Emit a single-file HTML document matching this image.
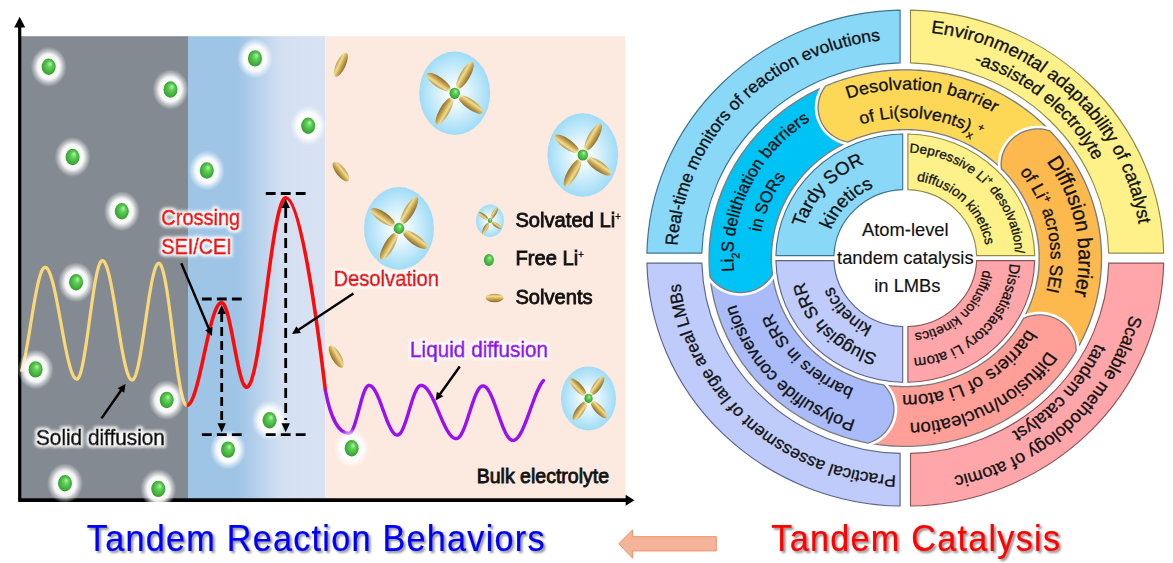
<!DOCTYPE html>
<html><head><meta charset="utf-8"><style>html,body{margin:0;padding:0;background:#fff;width:1173px;height:563px;overflow:hidden}svg{display:block}</style></head>
<body><svg width="1173" height="563" viewBox="0 0 1173 563">
<defs>
<linearGradient id="blueg" x1="0" x2="1" y1="0" y2="0">
 <stop offset="0" stop-color="#9fc5e6"/><stop offset="0.37" stop-color="#9fc5e6"/>
 <stop offset="0.68" stop-color="#d4e0f2"/><stop offset="1" stop-color="#d8e2f3"/>
</linearGradient>
<radialGradient id="glow"><stop offset="0.4" stop-color="#fff" stop-opacity="1"/><stop offset="0.62" stop-color="#fff" stop-opacity="0.92"/><stop offset="0.82" stop-color="#fff" stop-opacity="0.4"/><stop offset="1" stop-color="#fff" stop-opacity="0"/></radialGradient>
<radialGradient id="greenb" cx="0.5" cy="0.5" r="0.55" fx="0.62" fy="0.3">
 <stop offset="0" stop-color="#b4f8aa"/><stop offset="0.35" stop-color="#62cf5a"/><stop offset="0.8" stop-color="#3cac36"/><stop offset="1" stop-color="#2e8a24"/>
</radialGradient>
<linearGradient id="goldg" x1="0" x2="0" y1="0" y2="1">
 <stop offset="0" stop-color="#b8963c"/><stop offset="0.3" stop-color="#f0dc98"/><stop offset="0.55" stop-color="#d2b158"/><stop offset="1" stop-color="#8a6c28"/>
</linearGradient>
<radialGradient id="bubble"><stop offset="0" stop-color="#ffffff"/><stop offset="0.3" stop-color="#eaf8fe"/><stop offset="1" stop-color="#9fdcf7"/></radialGradient>
<filter id="wglow" x="-10%" y="-30%" width="120%" height="160%"><feMorphology in="SourceAlpha" operator="dilate" radius="1.5" result="d"/><feGaussianBlur in="d" stdDeviation="1.6" result="b"/><feFlood flood-color="#fff" flood-opacity="0.95"/><feComposite in2="b" operator="in" result="w"/><feMerge><feMergeNode in="w"/><feMergeNode in="SourceGraphic"/></feMerge></filter>
<filter id="dshadow" x="-5%" y="-20%" width="110%" height="150%"><feGaussianBlur in="SourceAlpha" stdDeviation="1" result="b"/><feOffset dx="1.5" dy="1.8" result="o"/><feFlood flood-color="#000" flood-opacity="0.45"/><feComposite in2="o" operator="in" result="s"/><feMerge><feMergeNode in="s"/><feMergeNode in="SourceGraphic"/></feMerge></filter>
<path id="o1" d="M159.22 151.09 A219.5 219.5 0 0 1 -159.22 -151.09 A219.5 219.5 0 0 1 159.22 151.09"/>
<path id="o2a" d="M-156.77 163.48 A226.5 226.5 0 0 1 156.77 -163.48 A226.5 226.5 0 0 1 -156.77 163.48"/>
<path id="o2b" d="M-132.96 157.34 A206 206 0 0 1 132.96 -157.34 A206 206 0 0 1 -132.96 157.34"/>
<path id="o3a" d="M-154.47 -162.21 A224 224 0 0 1 154.47 162.21 A224 224 0 0 1 -154.47 -162.21"/>
<path id="o3b" d="M-149.11 -135.68 A201.6 201.6 0 0 1 149.11 135.68 A201.6 201.6 0 0 1 -149.11 -135.68"/>
<path id="o4" d="M147.78 -159.59 A217.5 217.5 0 0 1 -147.78 159.59 A217.5 217.5 0 0 1 147.78 -159.59"/>
<path id="m1a" d="M-16.74 167.67 A168.5 168.5 0 0 1 16.74 -167.67 A168.5 168.5 0 0 1 -16.74 167.67"/>
<path id="m1b" d="M-15.66 139.62 A140.5 140.5 0 0 1 15.66 -139.62 A140.5 140.5 0 0 1 -15.66 139.62"/>
<path id="m2a" d="M-163.3 32.48 A166.5 166.5 0 0 1 163.3 -32.48 A166.5 166.5 0 0 1 -163.3 32.48"/>
<path id="m2b" d="M-136.4 29.24 A139.5 139.5 0 0 1 136.4 -29.24 A139.5 139.5 0 0 1 -136.4 29.24"/>
<path id="m3a" d="M-79.11 -144.8 A165 165 0 0 1 79.11 144.8 A165 165 0 0 1 -79.11 -144.8"/>
<path id="m3b" d="M-65.89 -120.34 A137.2 137.2 0 0 1 65.89 120.34 A137.2 137.2 0 0 1 -65.89 -120.34"/>
<path id="m4a" d="M119.92 -119.08 A169 169 0 0 1 -119.92 119.08 A169 169 0 0 1 119.92 -119.08"/>
<path id="m4b" d="M96.38 -100.85 A139.5 139.5 0 0 1 -96.38 100.85 A139.5 139.5 0 0 1 96.38 -100.85"/>
<path id="m5a" d="M148.43 72.07 A165 165 0 0 1 -148.43 -72.07 A165 165 0 0 1 148.43 72.07"/>
<path id="m5b" d="M129.79 55.09 A141 141 0 0 1 -129.79 -55.09 A141 141 0 0 1 129.79 55.09"/>
<path id="i1a" d="M75.54 68.98 A102.3 102.3 0 0 1 -75.54 -68.98 A102.3 102.3 0 0 1 75.54 68.98"/>
<path id="i1b" d="M55.2 53.68 A77 77 0 0 1 -55.2 -53.68 A77 77 0 0 1 55.2 53.68"/>
<path id="i2a" d="M-74.34 74.86 A105.5 105.5 0 0 1 74.34 -74.86 A105.5 105.5 0 0 1 -74.34 74.86"/>
<path id="i2b" d="M-54.33 55.97 A78 78 0 0 1 54.33 -55.97 A78 78 0 0 1 -54.33 55.97"/>
<path id="i3a" d="M-72.22 -70.6 A101 101 0 0 1 72.22 70.6 A101 101 0 0 1 -72.22 -70.6"/>
<path id="i3b" d="M-52.6 -54.85 A76 76 0 0 1 52.6 54.85 A76 76 0 0 1 -52.6 -54.85"/>
<path id="i4a" d="M71.81 -69.59 A100 100 0 0 1 -71.81 69.59 A100 100 0 0 1 71.81 -69.59"/>
<path id="i4b" d="M54.22 -51.82 A75 75 0 0 1 -54.22 51.82 A75 75 0 0 1 54.22 -51.82"/></defs>
<rect width="1173" height="563" fill="#fff"/>
<rect x="21" y="36.2" width="167" height="462.8" fill="#838a91"/>
<rect x="188" y="36.2" width="137.4" height="462.8" fill="url(#blueg)"/>
<rect x="325.4" y="36.2" width="299.8" height="462.8" fill="#fce9e0"/>
<path d="M19.7 500 V27" stroke="#000" stroke-width="3.2" fill="none"/>
<path d="M14.2 27.6 L19.7 16.8 L25.2 27.6 Z" fill="#000"/>
<path d="M18.2 500.1 H626" stroke="#000" stroke-width="3.6" fill="none"/>
<path d="M625.6 494.7 L634.4 500.2 L625.6 505.8 Z" fill="#000"/>
<path d="M21.44 371.66 L21.94 369.96 L22.44 368.12 L22.95 366.14 L23.45 364.04 L23.95 361.81 L24.46 359.47 L24.96 357.02 L25.46 354.47 L25.97 351.82 L26.47 349.09 L26.97 346.29 L27.48 343.41 L27.98 340.47 L28.48 337.48 L28.99 334.45 L29.49 331.39 L29.99 328.3 L30.5 325.2 L31 322.1 L31.51 319 L32.01 315.91 L32.51 312.85 L33.02 309.82 L33.52 306.83 L34.02 303.89 L34.53 301.01 L35.03 298.21 L35.53 295.48 L36.04 292.83 L36.54 290.28 L37.04 287.83 L37.55 285.49 L38.05 283.26 L38.55 281.16 L39.06 279.18 L39.56 277.34 L40.06 275.64 L40.57 274.09 L41.07 272.69 L41.58 271.44 L42.08 270.35 L42.58 269.43 L43.09 268.66 L43.59 268.07 L44.09 267.64 L44.6 267.39 L45.1 267.3 L45.6 267.37 L46.11 267.58 L46.61 267.92 L47.11 268.41 L47.62 269.03 L48.12 269.78 L48.62 270.67 L49.13 271.69 L49.63 272.84 L50.13 274.11 L50.63 275.5 L51.14 277.01 L51.64 278.64 L52.14 280.38 L52.65 282.22 L53.15 284.17 L53.65 286.21 L54.16 288.35 L54.66 290.57 L55.16 292.87 L55.67 295.25 L56.17 297.7 L56.67 300.21 L57.18 302.78 L57.68 305.4 L58.18 308.06 L58.69 310.76 L59.19 313.49 L59.69 316.25 L60.2 319.02 L60.7 321.81 L61.2 324.59 L61.7 327.38 L62.21 330.15 L62.71 332.91 L63.21 335.64 L63.72 338.34 L64.22 341 L64.72 343.62 L65.23 346.19 L65.73 348.7 L66.23 351.15 L66.74 353.53 L67.24 355.83 L67.74 358.05 L68.25 360.19 L68.75 362.23 L69.25 364.18 L69.76 366.02 L70.26 367.76 L70.76 369.39 L71.27 370.9 L71.77 372.29 L72.27 373.56 L72.77 374.71 L73.28 375.73 L73.78 376.62 L74.28 377.37 L74.79 377.99 L75.29 378.48 L75.79 378.82 L76.3 379.03 L76.8 379.1 L77.3 378.99 L77.8 378.65 L78.3 378.09 L78.8 377.31 L79.3 376.31 L79.8 375.1 L80.3 373.68 L80.8 372.05 L81.3 370.23 L81.8 368.21 L82.3 366.01 L82.8 363.64 L83.3 361.1 L83.8 358.4 L84.3 355.56 L84.8 352.58 L85.3 349.48 L85.8 346.26 L86.3 342.94 L86.8 339.54 L87.3 336.06 L87.8 332.53 L88.3 328.94 L88.8 325.32 L89.3 321.67 L89.8 318.03 L90.3 314.38 L90.8 310.76 L91.3 307.17 L91.8 303.64 L92.3 300.16 L92.8 296.76 L93.3 293.44 L93.8 290.23 L94.3 287.12 L94.8 284.14 L95.3 281.3 L95.8 278.6 L96.3 276.06 L96.8 273.69 L97.3 271.49 L97.8 269.47 L98.3 267.65 L98.8 266.02 L99.3 264.6 L99.8 263.39 L100.3 262.39 L100.8 261.61 L101.3 261.05 L101.8 260.71 L102.3 260.6 L102.81 260.68 L103.31 260.94 L103.82 261.36 L104.32 261.95 L104.83 262.7 L105.33 263.62 L105.84 264.7 L106.34 265.94 L106.85 267.33 L107.35 268.87 L107.86 270.55 L108.36 272.38 L108.87 274.34 L109.37 276.43 L109.88 278.65 L110.38 280.99 L110.89 283.43 L111.39 285.99 L111.9 288.63 L112.4 291.37 L112.91 294.19 L113.41 297.09 L113.92 300.05 L114.42 303.07 L114.93 306.13 L115.43 309.24 L115.94 312.38 L116.44 315.54 L116.95 318.71 L117.45 321.89 L117.96 325.06 L118.46 328.22 L118.97 331.36 L119.47 334.47 L119.98 337.53 L120.48 340.55 L120.99 343.51 L121.49 346.41 L122 349.23 L122.5 351.97 L123.01 354.61 L123.51 357.17 L124.02 359.61 L124.52 361.95 L125.03 364.17 L125.53 366.26 L126.04 368.22 L126.54 370.05 L127.05 371.73 L127.55 373.27 L128.06 374.66 L128.56 375.9 L129.07 376.98 L129.57 377.9 L130.08 378.65 L130.58 379.24 L131.09 379.66 L131.59 379.92 L132.1 380 L132.6 379.9 L133.11 379.59 L133.61 379.08 L134.12 378.37 L134.62 377.46 L135.12 376.35 L135.63 375.05 L136.13 373.56 L136.63 371.89 L137.14 370.05 L137.64 368.03 L138.15 365.85 L138.65 363.52 L139.15 361.04 L139.66 358.42 L140.16 355.67 L140.66 352.8 L141.17 349.82 L141.67 346.74 L142.18 343.58 L142.68 340.34 L143.18 337.03 L143.69 333.67 L144.19 330.27 L144.69 326.83 L145.2 323.38 L145.7 319.92 L146.21 316.47 L146.71 313.03 L147.21 309.63 L147.72 306.27 L148.22 302.96 L148.72 299.72 L149.23 296.56 L149.73 293.48 L150.24 290.5 L150.74 287.63 L151.24 284.88 L151.75 282.26 L152.25 279.78 L152.75 277.45 L153.26 275.27 L153.76 273.25 L154.27 271.41 L154.77 269.74 L155.27 268.25 L155.78 266.95 L156.28 265.84 L156.78 264.93 L157.29 264.22 L157.79 263.71 L158.3 263.4 L158.8 263.3 L159.3 263.41 L159.8 263.75 L160.3 264.3 L160.8 265.08 L161.3 266.07 L161.8 267.28 L162.3 268.7 L162.8 270.33 L163.3 272.16 L163.8 274.18 L164.3 276.4 L164.8 278.79 L165.3 281.36 L165.8 284.1 L166.3 286.99 L166.8 290.03 L167.3 293.21 L167.8 296.53 L168.3 299.96 L168.8 303.49 L169.3 307.13 L169.8 310.85 L170.3 314.64 L170.8 318.5 L171.3 322.41 L171.8 326.35 L172.3 330.32 L172.8 334.3 L173.3 338.28 L173.8 342.25 L174.3 346.19 L174.8 350.1 L175.3 353.96 L175.8 357.75 L176.3 361.47 L176.8 365.11 L177.3 368.64 L177.8 372.07 L178.3 375.39 L178.8 378.57 L179.3 381.61 L179.8 384.5 L180.3 387.24 L180.8 389.81 L181.3 392.2 L181.8 394.42 L182.3 396.44 L182.8 398.27 L183.3 399.9 L183.8 401.32 L184.3 402.53 L184.8 403.52 L185.3 404.3 L185.8 404.85 L186.3 405.19 L186.8 405.3" stroke="#fad878" stroke-width="3.2" fill="none" stroke-linejoin="round"/>
<path d="M186.8 405.3 L187.3 405.25 L187.81 405.09 L188.31 404.82 L188.82 404.45 L189.32 403.98 L189.83 403.4 L190.33 402.72 L190.83 401.93 L191.34 401.05 L191.84 400.07 L192.35 399 L192.85 397.83 L193.36 396.57 L193.86 395.23 L194.37 393.79 L194.87 392.28 L195.37 390.69 L195.88 389.01 L196.38 387.27 L196.89 385.46 L197.39 383.58 L197.9 381.65 L198.4 379.65 L198.9 377.6 L199.41 375.5 L199.91 373.36 L200.42 371.18 L200.92 368.96 L201.43 366.71 L201.93 364.44 L202.43 362.14 L202.94 359.83 L203.44 357.5 L203.95 355.17 L204.45 352.83 L204.96 350.5 L205.46 348.17 L205.97 345.86 L206.47 343.56 L206.97 341.29 L207.48 339.04 L207.98 336.82 L208.49 334.64 L208.99 332.5 L209.5 330.4 L210 328.35 L210.5 326.35 L211.01 324.42 L211.51 322.54 L212.02 320.73 L212.52 318.99 L213.03 317.31 L213.53 315.72 L214.03 314.21 L214.54 312.77 L215.04 311.43 L215.55 310.17 L216.05 309 L216.56 307.93 L217.06 306.95 L217.57 306.07 L218.07 305.28 L218.57 304.6 L219.08 304.02 L219.58 303.55 L220.09 303.18 L220.59 302.91 L221.1 302.75 L221.6 302.7 L222.1 302.78 L222.6 303.03 L223.1 303.45 L223.6 304.03 L224.1 304.77 L224.6 305.67 L225.1 306.72 L225.6 307.93 L226.1 309.28 L226.6 310.77 L227.1 312.4 L227.6 314.15 L228.1 316.03 L228.6 318.02 L229.1 320.12 L229.6 322.31 L230.1 324.6 L230.6 326.96 L231.1 329.4 L231.6 331.89 L232.1 334.44 L232.6 337.03 L233.1 339.65 L233.6 342.3 L234.1 344.95 L234.6 347.6 L235.1 350.25 L235.6 352.87 L236.1 355.46 L236.6 358.01 L237.1 360.5 L237.6 362.94 L238.1 365.3 L238.6 367.59 L239.1 369.78 L239.6 371.88 L240.1 373.87 L240.6 375.75 L241.1 377.5 L241.6 379.13 L242.1 380.62 L242.6 381.97 L243.1 383.18 L243.6 384.23 L244.1 385.13 L244.6 385.87 L245.1 386.45 L245.6 386.87 L246.1 387.12 L246.6 387.2 L247.1 387.12 L247.61 386.89 L248.11 386.51 L248.61 385.97 L249.11 385.29 L249.62 384.45 L250.12 383.46 L250.62 382.33 L251.12 381.05 L251.63 379.62 L252.13 378.06 L252.63 376.35 L253.13 374.51 L253.64 372.54 L254.14 370.44 L254.64 368.21 L255.14 365.86 L255.65 363.38 L256.15 360.8 L256.65 358.1 L257.15 355.3 L257.66 352.39 L258.16 349.39 L258.66 346.3 L259.16 343.11 L259.67 339.85 L260.17 336.51 L260.67 333.1 L261.17 329.62 L261.68 326.08 L262.18 322.49 L262.68 318.85 L263.18 315.16 L263.69 311.44 L264.19 307.69 L264.69 303.91 L265.19 300.12 L265.7 296.31 L266.2 292.5 L266.7 288.69 L267.21 284.88 L267.71 281.09 L268.21 277.31 L268.71 273.56 L269.22 269.84 L269.72 266.15 L270.22 262.51 L270.72 258.92 L271.23 255.38 L271.73 251.9 L272.23 248.49 L272.73 245.15 L273.24 241.89 L273.74 238.7 L274.24 235.61 L274.74 232.61 L275.25 229.7 L275.75 226.9 L276.25 224.2 L276.75 221.62 L277.26 219.14 L277.76 216.79 L278.26 214.56 L278.76 212.46 L279.27 210.49 L279.77 208.65 L280.27 206.94 L280.77 205.38 L281.28 203.95 L281.78 202.67 L282.28 201.54 L282.78 200.55 L283.29 199.71 L283.79 199.03 L284.29 198.49 L284.79 198.11 L285.3 197.88 L285.8 197.8 C300.5 197.8 317 320 325.4 390.5" stroke="#ff0a0a" stroke-width="3.6" fill="none" stroke-linejoin="round"/>
<path d="M325.4 390.5 C330.5 418 339 433.5 348.9 433.5 L348.9 433.5 L349.4 433.43 L349.9 433.2 L350.41 432.84 L350.91 432.32 L351.41 431.67 L351.91 430.88 L352.42 429.96 L352.92 428.91 L353.42 427.74 L353.92 426.46 L354.43 425.07 L354.93 423.59 L355.43 422.02 L355.94 420.37 L356.44 418.65 L356.94 416.88 L357.44 415.06 L357.94 413.21 L358.45 411.34 L358.95 409.45 L359.45 407.56 L359.95 405.69 L360.46 403.84 L360.96 402.02 L361.46 400.25 L361.96 398.53 L362.47 396.88 L362.97 395.31 L363.47 393.83 L363.98 392.44 L364.48 391.16 L364.98 389.99 L365.48 388.94 L365.99 388.02 L366.49 387.23 L366.99 386.58 L367.49 386.06 L368 385.7 L368.5 385.47 L369 385.4 L369.51 385.44 L370.01 385.56 L370.52 385.75 L371.03 386.02 L371.54 386.37 L372.04 386.79 L372.55 387.29 L373.06 387.86 L373.56 388.5 L374.07 389.21 L374.58 389.98 L375.09 390.82 L375.59 391.72 L376.1 392.68 L376.61 393.69 L377.11 394.76 L377.62 395.87 L378.13 397.03 L378.64 398.23 L379.14 399.47 L379.65 400.74 L380.16 402.04 L380.66 403.37 L381.17 404.72 L381.68 406.09 L382.19 407.47 L382.69 408.86 L383.2 410.25 L383.71 411.64 L384.21 413.03 L384.72 414.41 L385.23 415.78 L385.74 417.13 L386.24 418.46 L386.75 419.76 L387.26 421.03 L387.76 422.27 L388.27 423.47 L388.78 424.63 L389.29 425.74 L389.79 426.81 L390.3 427.82 L390.81 428.78 L391.31 429.68 L391.82 430.52 L392.33 431.29 L392.84 432 L393.34 432.64 L393.85 433.21 L394.36 433.71 L394.86 434.13 L395.37 434.48 L395.88 434.75 L396.39 434.94 L396.89 435.06 L397.4 435.1 L397.9 435.04 L398.4 434.88 L398.91 434.6 L399.41 434.22 L399.91 433.73 L400.41 433.13 L400.91 432.43 L401.42 431.63 L401.92 430.74 L402.42 429.75 L402.92 428.68 L403.43 427.53 L403.93 426.29 L404.43 424.99 L404.93 423.62 L405.43 422.19 L405.94 420.71 L406.44 419.18 L406.94 417.61 L407.44 416.01 L407.94 414.38 L408.45 412.74 L408.95 411.08 L409.45 409.42 L409.95 407.76 L410.46 406.12 L410.96 404.49 L411.46 402.89 L411.96 401.32 L412.46 399.79 L412.97 398.31 L413.47 396.88 L413.97 395.51 L414.47 394.21 L414.97 392.97 L415.48 391.82 L415.98 390.75 L416.48 389.76 L416.98 388.87 L417.49 388.07 L417.99 387.37 L418.49 386.77 L418.99 386.28 L419.49 385.9 L420 385.62 L420.5 385.46 L421 385.4 L421.5 385.43 L422.01 385.51 L422.51 385.64 L423.02 385.83 L423.52 386.07 L424.03 386.36 L424.53 386.7 L425.03 387.1 L425.54 387.54 L426.04 388.03 L426.55 388.58 L427.05 389.17 L427.56 389.8 L428.06 390.48 L428.56 391.2 L429.07 391.97 L429.57 392.77 L430.08 393.62 L430.58 394.5 L431.09 395.42 L431.59 396.36 L432.09 397.35 L432.6 398.36 L433.1 399.4 L433.61 400.46 L434.11 401.55 L434.62 402.65 L435.12 403.78 L435.62 404.92 L436.13 406.08 L436.63 407.25 L437.14 408.43 L437.64 409.62 L438.15 410.81 L438.65 412 L439.15 413.19 L439.66 414.38 L440.16 415.57 L440.67 416.75 L441.17 417.92 L441.68 419.08 L442.18 420.22 L442.68 421.35 L443.19 422.45 L443.69 423.54 L444.2 424.6 L444.7 425.64 L445.21 426.65 L445.71 427.64 L446.21 428.58 L446.72 429.5 L447.22 430.38 L447.73 431.23 L448.23 432.03 L448.74 432.8 L449.24 433.52 L449.74 434.2 L450.25 434.83 L450.75 435.42 L451.26 435.97 L451.76 436.46 L452.27 436.9 L452.77 437.3 L453.27 437.64 L453.78 437.93 L454.28 438.17 L454.79 438.36 L455.29 438.49 L455.8 438.57 L456.3 438.6 L456.8 438.55 L457.3 438.42 L457.81 438.18 L458.31 437.86 L458.81 437.45 L459.31 436.95 L459.81 436.36 L460.32 435.69 L460.82 434.94 L461.32 434.1 L461.82 433.19 L462.32 432.21 L462.82 431.16 L463.33 430.04 L463.83 428.85 L464.33 427.61 L464.83 426.32 L465.33 424.97 L465.84 423.58 L466.34 422.15 L466.84 420.69 L467.34 419.2 L467.84 417.68 L468.35 416.14 L468.85 414.59 L469.35 413.03 L469.85 411.47 L470.35 409.91 L470.85 408.36 L471.36 406.82 L471.86 405.3 L472.36 403.81 L472.86 402.35 L473.36 400.92 L473.87 399.53 L474.37 398.18 L474.87 396.89 L475.37 395.65 L475.87 394.46 L476.38 393.34 L476.88 392.29 L477.38 391.31 L477.88 390.4 L478.38 389.56 L478.88 388.81 L479.39 388.14 L479.89 387.55 L480.39 387.05 L480.89 386.64 L481.39 386.32 L481.9 386.08 L482.4 385.95 L482.9 385.9 L483.4 385.94 L483.9 386.05 L484.4 386.24 L484.9 386.5 L485.4 386.83 L485.9 387.23 L486.4 387.71 L486.9 388.26 L487.4 388.87 L487.9 389.55 L488.4 390.3 L488.9 391.1 L489.4 391.97 L489.9 392.9 L490.4 393.88 L490.9 394.92 L491.4 396 L491.9 397.13 L492.4 398.31 L492.9 399.52 L493.4 400.78 L493.9 402.07 L494.4 403.38 L494.9 404.73 L495.4 406.1 L495.9 407.48 L496.4 408.89 L496.9 410.3 L497.4 411.72 L497.9 413.15 L498.4 414.58 L498.9 416 L499.4 417.41 L499.9 418.82 L500.4 420.2 L500.9 421.57 L501.4 422.92 L501.9 424.23 L502.4 425.52 L502.9 426.77 L503.4 427.99 L503.9 429.17 L504.4 430.3 L504.9 431.38 L505.4 432.42 L505.9 433.4 L506.4 434.33 L506.9 435.2 L507.4 436 L507.9 436.75 L508.4 437.43 L508.9 438.04 L509.4 438.59 L509.9 439.07 L510.4 439.47 L510.9 439.8 L511.4 440.06 L511.9 440.25 L512.4 440.36 L512.9 440.4 L513.4 440.37 L513.9 440.27 L514.4 440.12 L514.91 439.9 L515.41 439.62 L515.91 439.28 L516.41 438.87 L516.91 438.41 L517.41 437.89 L517.91 437.31 L518.42 436.67 L518.92 435.98 L519.42 435.24 L519.92 434.44 L520.42 433.59 L520.92 432.7 L521.42 431.75 L521.93 430.76 L522.43 429.73 L522.93 428.65 L523.43 427.54 L523.93 426.39 L524.43 425.2 L524.93 423.98 L525.44 422.74 L525.94 421.46 L526.44 420.16 L526.94 418.84 L527.44 417.5 L527.94 416.14 L528.44 414.77 L528.95 413.39 L529.45 412 L529.95 410.6 L530.45 409.2 L530.95 407.8 L531.45 406.4 L531.95 405.01 L532.46 403.63 L532.96 402.26 L533.46 400.9 L533.96 399.56 L534.46 398.24 L534.96 396.94 L535.46 395.66 L535.97 394.42 L536.47 393.2 L536.97 392.01 L537.47 390.86 L537.97 389.75 L538.47 388.67 L538.97 387.64 L539.48 386.65 L539.98 385.7 L540.48 384.81 L540.98 383.96 L541.48 383.16 L541.98 382.42 L542.48 381.73 L542.99 381.09 L543.49 380.51" stroke="#9b10f2" stroke-width="3.4" fill="none" stroke-linejoin="round" stroke-linecap="round"/>
<ellipse cx="48.7" cy="66.8" rx="18" ry="20" fill="url(#glow)"/>
<ellipse cx="48.7" cy="66.8" rx="7" ry="8.2" fill="url(#greenb)"/>
<ellipse cx="170.5" cy="89.5" rx="18" ry="20" fill="url(#glow)"/>
<ellipse cx="170.5" cy="89.5" rx="7" ry="8.2" fill="url(#greenb)"/>
<ellipse cx="255" cy="58.4" rx="18" ry="20" fill="url(#glow)"/>
<ellipse cx="255" cy="58.4" rx="7" ry="8.2" fill="url(#greenb)"/>
<ellipse cx="72.6" cy="157" rx="18" ry="20" fill="url(#glow)"/>
<ellipse cx="72.6" cy="157" rx="7" ry="8.2" fill="url(#greenb)"/>
<ellipse cx="206.8" cy="170.5" rx="18" ry="20" fill="url(#glow)"/>
<ellipse cx="206.8" cy="170.5" rx="7" ry="8.2" fill="url(#greenb)"/>
<ellipse cx="308.2" cy="125.7" rx="18" ry="20" fill="url(#glow)"/>
<ellipse cx="308.2" cy="125.7" rx="7" ry="8.2" fill="url(#greenb)"/>
<ellipse cx="121.8" cy="211.2" rx="18" ry="20" fill="url(#glow)"/>
<ellipse cx="121.8" cy="211.2" rx="7" ry="8.2" fill="url(#greenb)"/>
<ellipse cx="76.1" cy="282.2" rx="18" ry="20" fill="url(#glow)"/>
<ellipse cx="76.1" cy="282.2" rx="7" ry="8.2" fill="url(#greenb)"/>
<ellipse cx="35.6" cy="369.4" rx="18" ry="20" fill="url(#glow)"/>
<ellipse cx="35.6" cy="369.4" rx="7" ry="8.2" fill="url(#greenb)"/>
<ellipse cx="166.7" cy="400" rx="18" ry="20" fill="url(#glow)"/>
<ellipse cx="166.7" cy="400" rx="7" ry="8.2" fill="url(#greenb)"/>
<ellipse cx="228" cy="449.6" rx="18" ry="20" fill="url(#glow)"/>
<ellipse cx="228" cy="449.6" rx="7" ry="8.2" fill="url(#greenb)"/>
<ellipse cx="269.6" cy="420.3" rx="18" ry="20" fill="url(#glow)"/>
<ellipse cx="269.6" cy="420.3" rx="7" ry="8.2" fill="url(#greenb)"/>
<ellipse cx="65" cy="483.3" rx="18" ry="20" fill="url(#glow)"/>
<ellipse cx="65" cy="483.3" rx="7" ry="8.2" fill="url(#greenb)"/>
<ellipse cx="158.3" cy="488.9" rx="18" ry="20" fill="url(#glow)"/>
<ellipse cx="158.3" cy="488.9" rx="7" ry="8.2" fill="url(#greenb)"/>
<ellipse cx="351.7" cy="448.3" rx="18" ry="20" fill="url(#glow)"/>
<ellipse cx="351.7" cy="448.3" rx="7" ry="8.2" fill="url(#greenb)"/>
<g transform="translate(340.9 64.7) rotate(-65)"><ellipse rx="13" ry="4.75" fill="url(#goldg)"/></g>
<g transform="translate(340.9 171.6) rotate(52)"><ellipse rx="12" ry="4.75" fill="url(#goldg)"/></g>
<g transform="translate(336.2 356.6) rotate(60)"><ellipse rx="12.5" ry="4.75" fill="url(#goldg)"/></g>
<ellipse cx="454.7" cy="93.3" rx="35.5" ry="41.7" fill="url(#bubble)"/>
<g transform="translate(464.95 75.55) rotate(-60)"><ellipse rx="15.5" ry="5" fill="url(#goldg)"/></g>
<g transform="translate(444.45 111.05) rotate(120)"><ellipse rx="15.5" ry="5" fill="url(#goldg)"/></g>
<g transform="translate(470.67 104.48) rotate(35)"><ellipse rx="14.5" ry="5" fill="url(#goldg)"/></g>
<g transform="translate(438.73 82.12) rotate(215)"><ellipse rx="14.5" ry="5" fill="url(#goldg)"/></g>
<ellipse cx="454.7" cy="93.3" rx="8" ry="8.5" fill="url(#glow)"/>
<ellipse cx="454.7" cy="93.3" rx="5.2" ry="5.6" fill="url(#greenb)"/>
<ellipse cx="582.8" cy="155" rx="35.3" ry="41.7" fill="url(#bubble)"/>
<g transform="translate(593.05 137.25) rotate(-60)"><ellipse rx="15.5" ry="5" fill="url(#goldg)"/></g>
<g transform="translate(572.55 172.75) rotate(120)"><ellipse rx="15.5" ry="5" fill="url(#goldg)"/></g>
<g transform="translate(598.77 166.18) rotate(35)"><ellipse rx="14.5" ry="5" fill="url(#goldg)"/></g>
<g transform="translate(566.83 143.82) rotate(215)"><ellipse rx="14.5" ry="5" fill="url(#goldg)"/></g>
<ellipse cx="582.8" cy="155" rx="8" ry="8.5" fill="url(#glow)"/>
<ellipse cx="582.8" cy="155" rx="5.2" ry="5.6" fill="url(#greenb)"/>
<ellipse cx="399" cy="228.4" rx="35" ry="41.3" fill="url(#bubble)"/>
<g transform="translate(409.25 210.65) rotate(-60)"><ellipse rx="15.5" ry="5" fill="url(#goldg)"/></g>
<g transform="translate(388.75 246.15) rotate(120)"><ellipse rx="15.5" ry="5" fill="url(#goldg)"/></g>
<g transform="translate(414.97 239.58) rotate(35)"><ellipse rx="14.5" ry="5" fill="url(#goldg)"/></g>
<g transform="translate(383.03 217.22) rotate(215)"><ellipse rx="14.5" ry="5" fill="url(#goldg)"/></g>
<ellipse cx="399" cy="228.4" rx="8" ry="8.5" fill="url(#glow)"/>
<ellipse cx="399" cy="228.4" rx="5.2" ry="5.6" fill="url(#greenb)"/>
<ellipse cx="588.5" cy="398.4" rx="27.5" ry="32" fill="url(#bubble)"/>
<g transform="translate(597.22 385.95) rotate(-55)"><ellipse rx="11.2" ry="4" fill="url(#goldg)"/></g>
<g transform="translate(579.78 410.85) rotate(125)"><ellipse rx="11.2" ry="4" fill="url(#goldg)"/></g>
<g transform="translate(598.87 409.52) rotate(47)"><ellipse rx="11.2" ry="4" fill="url(#goldg)"/></g>
<g transform="translate(578.13 387.28) rotate(227)"><ellipse rx="11.2" ry="4" fill="url(#goldg)"/></g>
<ellipse cx="588.5" cy="398.4" rx="6.4" ry="6.8" fill="url(#glow)"/>
<ellipse cx="588.5" cy="398.4" rx="4.16" ry="4.48" fill="url(#greenb)"/>
<ellipse cx="490" cy="220.7" rx="13.9" ry="16.2" fill="url(#bubble)"/>
<g transform="translate(494.31 213.24) rotate(-60)"><ellipse rx="6.51" ry="2.1" fill="url(#goldg)"/></g>
<g transform="translate(485.69 228.16) rotate(120)"><ellipse rx="6.51" ry="2.1" fill="url(#goldg)"/></g>
<g transform="translate(496.71 225.4) rotate(35)"><ellipse rx="6.09" ry="2.1" fill="url(#goldg)"/></g>
<g transform="translate(483.29 216) rotate(215)"><ellipse rx="6.09" ry="2.1" fill="url(#goldg)"/></g>
<ellipse cx="490" cy="220.7" rx="3.36" ry="3.57" fill="url(#glow)"/>
<ellipse cx="490" cy="220.7" rx="2.18" ry="2.35" fill="url(#greenb)"/>
<ellipse cx="488.9" cy="260" rx="5" ry="6" fill="url(#greenb)"/>
<g transform="translate(494.6 298) rotate(0)"><ellipse rx="9" ry="4.15" fill="url(#goldg)"/></g>
<path d="M201.9 299 H242 M201.9 434.6 H242 M265.8 193.5 H305.9 M265.8 434.6 H305.9" stroke="#000" stroke-width="2.8" fill="none" stroke-dasharray="9.8 5.2"/>
<path d="M221.7 313 V423" stroke="#000" stroke-width="2.8" fill="none" stroke-dasharray="9 5"/>
<path d="M285.7 208 V420" stroke="#000" stroke-width="2.8" fill="none" stroke-dasharray="10 5"/>
<path d="M221.7 304.9 L217.5 313.9 L225.9 313.9 Z" fill="#000"/>
<path d="M221.7 432.2 L217.5 423.2 L225.9 423.2 Z" fill="#000"/>
<path d="M285.7 199 L281.5 208 L289.9 208 Z" fill="#000"/>
<path d="M285.7 432.2 L281.5 423.2 L289.9 423.2 Z" fill="#000"/>
<path d="M181.3 263.3 L209.18 329.55" stroke="#000" stroke-width="2.4" fill="none"/>
<path d="M211.9 336 L205.11 330.18 L212.48 327.07 Z" fill="#000"/>
<path d="M353.4 293.5 L297.84 330.15" stroke="#000" stroke-width="2.4" fill="none"/>
<path d="M292 334 L296.48 326.26 L300.88 332.93 Z" fill="#000"/>
<path d="M101.5 418.4 L121.49 389.74" stroke="#000" stroke-width="2.4" fill="none"/>
<path d="M125.5 384 L124.2 392.85 L117.64 388.27 Z" fill="#000"/>
<path d="M459.8 366.5 L439.57 394.8" stroke="#000" stroke-width="2.4" fill="none"/>
<path d="M435.5 400.5 L436.9 391.67 L443.41 396.32 Z" fill="#000"/>
<g filter="url(#wglow)">
<text transform="translate(161.3 225.2) scale(0.91 1)" font-family="Liberation Sans, sans-serif" font-size="22" fill="#f01010" stroke="#f01010" stroke-width="0.85" >Crossing</text>
<text transform="translate(161.3 253.5) scale(0.9 1)" font-family="Liberation Sans, sans-serif" font-size="22" fill="#f01010" stroke="#f01010" stroke-width="0.85" >SEI/CEI</text>
<text transform="translate(333.4 286.4) scale(0.92 1)" font-family="Liberation Sans, sans-serif" font-size="22" fill="#f01010" stroke="#f01010" stroke-width="0.85" >Desolvation</text>
<text transform="translate(36 444.7) scale(0.98 1)" font-family="Liberation Sans, sans-serif" font-size="21.2" fill="#111" stroke="#111" stroke-width="0.85" >Solid diffusion</text>
<text transform="translate(410 357.3) scale(0.97 1)" font-family="Liberation Sans, sans-serif" font-size="21.4" fill="#9b10f2" stroke="#9b10f2" stroke-width="0.85" >Liquid diffusion</text>
</g>
<text transform="translate(476.7 483.3) scale(0.93 1)" font-family="Liberation Sans, sans-serif" font-size="21" fill="#111" stroke="#111" stroke-width="0.85" >Bulk electrolyte</text>
<text transform="translate(515.4 227) scale(0.96 1)" font-family="Liberation Sans, sans-serif" font-size="21" fill="#111" stroke="#111" stroke-width="0.85" >Solvated Li<tspan font-size="10" dy="-7.5" stroke-width="0.3">+</tspan></text>
<text transform="translate(515.4 265) scale(0.96 1)" font-family="Liberation Sans, sans-serif" font-size="21" fill="#111" stroke="#111" stroke-width="0.85" >Free Li<tspan font-size="10" dy="-7.5" stroke-width="0.3">+</tspan></text>
<text transform="translate(515.4 303.9) scale(0.96 1)" font-family="Liberation Sans, sans-serif" font-size="21" fill="#111" stroke="#111" stroke-width="0.85" >Solvents</text>
<g filter="url(#dshadow)">
<text transform="translate(86.8 551.3) scale(0.94 1)" font-family="Liberation Sans, sans-serif" font-size="36.4" fill="#0000f8" stroke="#0000f8" stroke-width="0.25" letter-spacing="1.33">Tandem Reaction Behaviors</text>
<text transform="translate(771.3 551.3) scale(0.94 1)" font-family="Liberation Sans, sans-serif" font-size="36.4" fill="#ff0000" stroke="#ff0000" stroke-width="0.25" letter-spacing="1.33">Tandem Catalysis</text>
</g>
<path d="M618.8 543.8 L632.6 529.8 V536.7 H716.3 V550.9 H632.6 V558.2 Z" fill="#f5b49a" stroke="#ee9164" stroke-width="1"/>
<g transform="translate(905.3 258.1) scale(1.042 1)">
<path d="M5 -247.95 A248 248 0 0 1 247.95 -5 L195.24 -5 A195.3 195.3 0 0 0 5 -195.24 Z" fill="#fff18a" stroke="#8f8a4a" stroke-width="1.1"/>
<path d="M5 247.95 A248 248 0 0 0 247.95 5 L195.24 5 A195.3 195.3 0 0 1 5 195.24 Z" fill="#ffa6aa" stroke="#8c5658" stroke-width="1.1"/>
<path d="M-5 247.95 A248 248 0 0 1 -247.95 5 L-195.24 5 A195.3 195.3 0 0 0 -5 195.24 Z" fill="#bfccfb" stroke="#5c6488" stroke-width="1.1"/>
<path d="M-5 -247.95 A248 248 0 0 0 -247.95 -5 L-195.24 -5 A195.3 195.3 0 0 1 -5 -195.24 Z" fill="#8ad8f8" stroke="#3f7290" stroke-width="1.1"/>
<mask id="mk0" maskUnits="userSpaceOnUse" x="-260" y="-260" width="520" height="520"><rect x="-260" y="-260" width="520" height="520" fill="#fff"/><path d="M138.77 -127.27 L141.14 -124.64 L143.46 -121.97 L145.72 -119.25 L147.94 -116.49 L150.1 -113.69 L152.21 -110.85 L154.27 -107.97 L156.27 -105.06 L158.22 -102.1 L160.11 -99.11 L161.94 -96.09 L163.72 -93.03 L165.43 -89.93 L167.1 -86.81 L168.7 -83.66 L170.24 -80.47 L171.72 -77.26 L173.14 -74.02 L174.5 -70.75 L175.8 -67.46 L177.04 -64.15 L178.21 -60.81 L179.32 -57.45 L180.37 -54.07 L181.35 -50.67 L182.27 -47.26 L183.13 -43.82 L183.92 -40.37 L184.65 -36.91 L185.31 -33.44 L185.9 -29.95 L186.43 -26.45 L186.9 -22.94 L187.3 -19.43 L187.63 -15.9 L187.89 -12.38 L188.09 -8.84 L188.23 -5.31 L188.29 -1.77 L188.29 1.77 L188.23 5.3 L188.09 8.84 L187.89 12.37 L187.63 15.9 L187.3 19.42 L186.9 22.94 L186.43 26.45 L185.9 29.94 L185.31 33.43 L184.65 36.91 L183.92 40.37 L183.13 43.82 L182.28 47.25 L181.36 50.67 L180.37 54.07 L179.32 57.45 L178.21 60.8 L177.04 64.14 L175.8 67.46 L174.5 70.75 L173.14 74.01 L171.72 77.25 L170.24 80.47 L168.7 83.65 L167.1 86.81 L165.44 89.93 L163.72 93.02 L161.94 96.08 L160.11 99.11 L158.22 102.1 L156.27 105.05 L154.27 107.97 L152.21 110.85 L150.1 113.69 L147.94 116.49 L145.73 119.25 L143.46 121.97 L141.14 124.64 L138.78 127.27 L136.36 129.86 L93.06 88.62 L94.73 86.82 L96.38 84.99 L97.99 83.13 L99.56 81.24 L101.09 79.33 L102.59 77.38 L104.05 75.4 L105.48 73.4 L106.86 71.37 L108.21 69.31 L109.51 67.23 L110.78 65.12 L112 62.99 L113.19 60.84 L114.33 58.66 L115.43 56.46 L116.49 54.24 L117.51 52.01 L118.48 49.75 L119.41 47.47 L120.29 45.18 L121.14 42.87 L121.93 40.55 L122.69 38.21 L123.4 35.86 L124.06 33.49 L124.68 31.11 L125.25 28.72 L125.78 26.32 L126.26 23.91 L126.69 21.49 L127.08 19.06 L127.42 16.63 L127.71 14.19 L127.96 11.74 L128.16 9.29 L128.32 6.84 L128.43 4.38 L128.49 1.93 L128.5 -0.53 L128.47 -2.99 L128.38 -5.44 L128.26 -7.9 L128.08 -10.35 L127.86 -12.8 L127.59 -15.24 L127.28 -17.68 L126.92 -20.11 L126.51 -22.53 L126.05 -24.95 L125.55 -27.36 L125.01 -29.75 L124.42 -32.14 L123.78 -34.51 L123.1 -36.87 L122.37 -39.22 L121.6 -41.55 L120.78 -43.87 L119.92 -46.17 L119.01 -48.46 L118.06 -50.73 L117.07 -52.97 L116.04 -55.2 L114.96 -57.41 L113.84 -59.6 L112.68 -61.77 L111.48 -63.91 L110.24 -66.03 L108.95 -68.13 L107.63 -70.2 L106.27 -72.25 L104.87 -74.26 L103.43 -76.26 L101.95 -78.22 L100.44 -80.16 L98.88 -82.06 L97.3 -83.94 L95.67 -85.78 L94.01 -87.6 L92.32 -89.38 L92.14 -91.16 L92.05 -92.95 L92.04 -94.74 L92.13 -96.53 L92.31 -98.31 L92.58 -100.08 L92.94 -101.83 L93.39 -103.56 L93.92 -105.27 L94.54 -106.95 L95.25 -108.6 L96.04 -110.2 L96.9 -111.77 L97.85 -113.29 L98.87 -114.76 L99.97 -116.18 L101.13 -117.53 L102.37 -118.83 L103.66 -120.07 L105.02 -121.23 L106.44 -122.33 L107.91 -123.35 L109.42 -124.3 L110.99 -125.17 L112.6 -125.96 L114.24 -126.66 L115.92 -127.28 L117.63 -127.82 L119.36 -128.27 L121.11 -128.63 L122.88 -128.9 L124.67 -129.08 L126.45 -129.17 L128.24 -129.17 L130.03 -129.08 L131.81 -128.89 L133.58 -128.62 L135.33 -128.26 L137.07 -127.81 Z" fill="#000" stroke="#000" stroke-width="6.4"/></mask>
<path d="M-76.36 -172.12 L-73.14 -173.52 L-69.89 -174.85 L-66.61 -176.12 L-63.32 -177.34 L-60 -178.49 L-56.66 -179.57 L-53.3 -180.6 L-49.92 -181.56 L-46.52 -182.46 L-43.11 -183.3 L-39.68 -184.07 L-36.24 -184.78 L-32.79 -185.42 L-29.32 -186 L-25.84 -186.52 L-22.36 -186.97 L-18.87 -187.35 L-15.37 -187.67 L-11.86 -187.93 L-8.36 -188.11 L-4.85 -188.24 L-1.33 -188.3 L2.18 -188.29 L5.69 -188.21 L9.2 -188.07 L12.71 -187.87 L16.21 -187.6 L19.71 -187.27 L23.2 -186.87 L26.68 -186.4 L30.16 -185.87 L33.62 -185.27 L37.07 -184.61 L40.51 -183.89 L43.93 -183.1 L47.34 -182.25 L50.73 -181.34 L54.11 -180.36 L57.46 -179.32 L60.8 -178.21 L64.11 -177.05 L67.41 -175.82 L70.67 -174.53 L73.92 -173.18 L77.14 -171.78 L80.33 -170.31 L83.49 -168.78 L86.63 -167.19 L89.73 -165.55 L92.8 -163.84 L95.84 -162.08 L98.85 -160.27 L101.83 -158.39 L104.76 -156.47 L107.66 -154.48 L110.53 -152.45 L113.35 -150.36 L116.14 -148.22 L118.88 -146.03 L121.59 -143.78 L124.25 -141.49 L126.87 -139.15 L129.44 -136.76 L131.97 -134.32 L134.45 -131.83 L136.89 -129.3 L139.28 -126.72 L141.62 -124.1 L143.91 -121.44 L146.15 -118.73 L148.34 -115.98 L150.48 -113.2 L152.56 -110.37 L154.6 -107.5 L156.57 -104.6 L158.5 -101.66 L160.37 -98.69 L162.18 -95.68 L163.94 -92.63 L165.64 -89.56 L113.03 -61.12 L111.85 -63.25 L110.63 -65.37 L109.37 -67.46 L108.07 -69.52 L106.73 -71.56 L105.35 -73.58 L103.93 -75.56 L102.48 -77.53 L100.99 -79.46 L99.46 -81.36 L97.9 -83.24 L96.3 -85.08 L94.67 -86.89 L93 -88.68 L91.3 -90.43 L89.56 -92.15 L87.8 -93.83 L86 -95.48 L84.17 -97.1 L82.31 -98.68 L80.42 -100.22 L78.5 -101.73 L76.55 -103.21 L74.58 -104.64 L72.58 -106.04 L70.55 -107.4 L68.5 -108.72 L66.42 -110 L64.32 -111.24 L62.2 -112.45 L60.05 -113.61 L57.88 -114.73 L55.69 -115.81 L53.48 -116.84 L51.25 -117.84 L49 -118.79 L46.74 -119.7 L44.46 -120.56 L42.16 -121.39 L39.84 -122.17 L37.52 -122.9 L35.18 -123.59 L32.82 -124.24 L30.46 -124.84 L28.08 -125.39 L25.69 -125.91 L23.3 -126.37 L20.89 -126.79 L18.48 -127.16 L16.06 -127.49 L13.64 -127.77 L11.21 -128.01 L8.77 -128.2 L6.34 -128.34 L3.9 -128.44 L1.46 -128.49 L-0.99 -128.5 L-3.43 -128.45 L-5.87 -128.37 L-8.3 -128.23 L-10.74 -128.05 L-13.17 -127.82 L-15.59 -127.55 L-18.01 -127.23 L-20.43 -126.87 L-22.83 -126.46 L-25.23 -126 L-27.62 -125.5 L-30 -124.95 L-32.37 -124.36 L-34.72 -123.72 L-37.07 -123.04 L-39.4 -122.31 L-41.71 -121.54 L-44.01 -120.73 L-46.3 -119.87 L-48.57 -118.97 L-50.82 -118.02 L-53.05 -117.04 L-55.27 -116.01 L-57.01 -116.4 L-58.74 -116.89 L-60.43 -117.45 L-62.1 -118.11 L-63.73 -118.85 L-65.32 -119.67 L-66.87 -120.57 L-68.37 -121.54 L-69.82 -122.6 L-71.21 -123.72 L-72.54 -124.91 L-73.82 -126.17 L-75.02 -127.49 L-76.16 -128.87 L-77.23 -130.31 L-78.22 -131.8 L-79.14 -133.34 L-79.97 -134.92 L-80.73 -136.54 L-81.4 -138.2 L-81.99 -139.89 L-82.49 -141.61 L-82.9 -143.35 L-83.23 -145.12 L-83.46 -146.89 L-83.61 -148.67 L-83.66 -150.46 L-83.62 -152.25 L-83.5 -154.04 L-83.28 -155.82 L-82.97 -157.58 L-82.57 -159.32 L-82.09 -161.05 L-81.52 -162.74 L-80.86 -164.41 L-80.12 -166.04 L-79.3 -167.63 L-78.4 -169.18 L-77.42 -170.67 Z" fill="#fdd856" stroke="#7d7d7d" stroke-width="1.3" mask="url(#mk0)"/>
<mask id="mk1" maskUnits="userSpaceOnUse" x="-260" y="-260" width="520" height="520"><rect x="-260" y="-260" width="520" height="520" fill="#fff"/><path d="M163.93 92.65 L162.17 95.69 L160.36 98.7 L158.49 101.68 L156.56 104.62 L154.58 107.52 L152.55 110.39 L150.46 113.21 L148.33 116 L146.14 118.75 L143.9 121.45 L141.6 124.12 L139.26 126.74 L136.87 129.31 L134.44 131.85 L131.96 134.33 L129.43 136.77 L126.85 139.16 L124.23 141.5 L121.57 143.8 L118.87 146.04 L116.12 148.23 L113.34 150.37 L110.51 152.46 L107.65 154.5 L104.75 156.48 L101.81 158.4 L98.83 160.28 L95.83 162.09 L92.79 163.85 L89.71 165.55 L86.61 167.2 L83.47 168.79 L80.31 170.31 L77.12 171.78 L73.9 173.19 L70.66 174.54 L67.39 175.83 L64.1 177.06 L60.78 178.22 L57.44 179.32 L54.09 180.36 L50.71 181.34 L47.32 182.26 L43.91 183.11 L40.49 183.9 L37.05 184.62 L33.6 185.28 L30.14 185.87 L26.66 186.4 L23.18 186.87 L19.69 187.27 L16.19 187.6 L12.69 187.87 L9.18 188.08 L5.67 188.21 L2.16 188.29 L-1.35 188.3 L-4.87 188.24 L-8.38 188.11 L-11.89 187.92 L-15.39 187.67 L-18.89 187.35 L-22.38 186.97 L-25.86 186.52 L-29.34 186 L-32.81 185.42 L-36.26 184.78 L-39.7 184.07 L-43.13 183.29 L-46.54 182.46 L-49.94 181.56 L-53.31 180.59 L-56.67 179.57 L-60.02 178.48 L-63.33 177.33 L-66.63 176.12 L-69.91 174.84 L-73.16 173.51 L-76.38 172.11 L-79.58 170.66 L-54.31 116.46 L-52.08 117.47 L-49.84 118.44 L-47.58 119.36 L-45.31 120.25 L-43.02 121.09 L-40.71 121.88 L-38.39 122.63 L-36.05 123.34 L-33.7 124 L-31.34 124.62 L-28.97 125.19 L-26.58 125.72 L-24.19 126.2 L-21.79 126.64 L-19.38 127.03 L-16.96 127.38 L-14.54 127.67 L-12.11 127.93 L-9.68 128.13 L-7.24 128.3 L-4.81 128.41 L-2.37 128.48 L0.07 128.5 L2.52 128.48 L4.96 128.4 L7.39 128.29 L9.83 128.12 L12.26 127.91 L14.69 127.66 L17.11 127.36 L19.53 127.01 L21.94 126.61 L24.34 126.17 L26.73 125.69 L29.11 125.16 L31.48 124.58 L33.85 123.96 L36.19 123.3 L38.53 122.59 L40.85 121.83 L43.16 121.04 L45.45 120.19 L47.72 119.31 L49.98 118.38 L52.22 117.41 L54.44 116.4 L56.64 115.34 L58.82 114.25 L60.98 113.11 L63.12 111.93 L65.24 110.71 L67.33 109.45 L69.39 108.15 L71.44 106.81 L73.45 105.44 L75.44 104.02 L77.4 102.57 L79.34 101.08 L81.24 99.56 L83.12 98 L84.97 96.4 L86.78 94.77 L88.57 93.1 L90.32 91.4 L92.04 89.67 L93.73 87.91 L95.38 86.11 L97 84.28 L98.58 82.43 L100.13 80.54 L101.64 78.62 L103.12 76.68 L104.55 74.7 L105.95 72.71 L107.32 70.68 L108.64 68.63 L109.92 66.55 L111.17 64.45 L112.37 62.33 L113.54 60.18 L115.17 59.46 L116.84 58.82 L118.55 58.26 L120.27 57.8 L122.02 57.42 L123.79 57.13 L125.57 56.93 L127.35 56.81 L129.14 56.8 L130.93 56.87 L132.72 57.03 L134.49 57.28 L136.25 57.62 L137.98 58.05 L139.7 58.57 L141.38 59.17 L143.03 59.86 L144.65 60.63 L146.22 61.49 L147.75 62.42 L149.23 63.43 L150.66 64.51 L152.03 65.66 L153.34 66.88 L154.58 68.16 L155.76 69.51 L156.87 70.91 L157.91 72.37 L158.87 73.88 L159.76 75.44 L160.56 77.04 L161.28 78.68 L161.92 80.35 L162.47 82.05 L162.94 83.78 L163.32 85.53 L163.61 87.3 L163.8 89.08 L163.91 90.86 Z" fill="#000" stroke="#000" stroke-width="6.4"/></mask>
<path d="M138.77 -127.27 L141.14 -124.64 L143.46 -121.97 L145.72 -119.25 L147.94 -116.49 L150.1 -113.69 L152.21 -110.85 L154.27 -107.97 L156.27 -105.06 L158.22 -102.1 L160.11 -99.11 L161.94 -96.09 L163.72 -93.03 L165.43 -89.93 L167.1 -86.81 L168.7 -83.66 L170.24 -80.47 L171.72 -77.26 L173.14 -74.02 L174.5 -70.75 L175.8 -67.46 L177.04 -64.15 L178.21 -60.81 L179.32 -57.45 L180.37 -54.07 L181.35 -50.67 L182.27 -47.26 L183.13 -43.82 L183.92 -40.37 L184.65 -36.91 L185.31 -33.44 L185.9 -29.95 L186.43 -26.45 L186.9 -22.94 L187.3 -19.43 L187.63 -15.9 L187.89 -12.38 L188.09 -8.84 L188.23 -5.31 L188.29 -1.77 L188.29 1.77 L188.23 5.3 L188.09 8.84 L187.89 12.37 L187.63 15.9 L187.3 19.42 L186.9 22.94 L186.43 26.45 L185.9 29.94 L185.31 33.43 L184.65 36.91 L183.92 40.37 L183.13 43.82 L182.28 47.25 L181.36 50.67 L180.37 54.07 L179.32 57.45 L178.21 60.8 L177.04 64.14 L175.8 67.46 L174.5 70.75 L173.14 74.01 L171.72 77.25 L170.24 80.47 L168.7 83.65 L167.1 86.81 L165.44 89.93 L163.72 93.02 L161.94 96.08 L160.11 99.11 L158.22 102.1 L156.27 105.05 L154.27 107.97 L152.21 110.85 L150.1 113.69 L147.94 116.49 L145.73 119.25 L143.46 121.97 L141.14 124.64 L138.78 127.27 L136.36 129.86 L93.06 88.62 L94.73 86.82 L96.38 84.99 L97.99 83.13 L99.56 81.24 L101.09 79.33 L102.59 77.38 L104.05 75.4 L105.48 73.4 L106.86 71.37 L108.21 69.31 L109.51 67.23 L110.78 65.12 L112 62.99 L113.19 60.84 L114.33 58.66 L115.43 56.46 L116.49 54.24 L117.51 52.01 L118.48 49.75 L119.41 47.47 L120.29 45.18 L121.14 42.87 L121.93 40.55 L122.69 38.21 L123.4 35.86 L124.06 33.49 L124.68 31.11 L125.25 28.72 L125.78 26.32 L126.26 23.91 L126.69 21.49 L127.08 19.06 L127.42 16.63 L127.71 14.19 L127.96 11.74 L128.16 9.29 L128.32 6.84 L128.43 4.38 L128.49 1.93 L128.5 -0.53 L128.47 -2.99 L128.38 -5.44 L128.26 -7.9 L128.08 -10.35 L127.86 -12.8 L127.59 -15.24 L127.28 -17.68 L126.92 -20.11 L126.51 -22.53 L126.05 -24.95 L125.55 -27.36 L125.01 -29.75 L124.42 -32.14 L123.78 -34.51 L123.1 -36.87 L122.37 -39.22 L121.6 -41.55 L120.78 -43.87 L119.92 -46.17 L119.01 -48.46 L118.06 -50.73 L117.07 -52.97 L116.04 -55.2 L114.96 -57.41 L113.84 -59.6 L112.68 -61.77 L111.48 -63.91 L110.24 -66.03 L108.95 -68.13 L107.63 -70.2 L106.27 -72.25 L104.87 -74.26 L103.43 -76.26 L101.95 -78.22 L100.44 -80.16 L98.88 -82.06 L97.3 -83.94 L95.67 -85.78 L94.01 -87.6 L92.32 -89.38 L92.14 -91.16 L92.05 -92.95 L92.04 -94.74 L92.13 -96.53 L92.31 -98.31 L92.58 -100.08 L92.94 -101.83 L93.39 -103.56 L93.92 -105.27 L94.54 -106.95 L95.25 -108.6 L96.04 -110.2 L96.9 -111.77 L97.85 -113.29 L98.87 -114.76 L99.97 -116.18 L101.13 -117.53 L102.37 -118.83 L103.66 -120.07 L105.02 -121.23 L106.44 -122.33 L107.91 -123.35 L109.42 -124.3 L110.99 -125.17 L112.6 -125.96 L114.24 -126.66 L115.92 -127.28 L117.63 -127.82 L119.36 -128.27 L121.11 -128.63 L122.88 -128.9 L124.67 -129.08 L126.45 -129.17 L128.24 -129.17 L130.03 -129.08 L131.81 -128.89 L133.58 -128.62 L135.33 -128.26 L137.07 -127.81 Z" fill="#fdb94d" stroke="#7d7d7d" stroke-width="1.3" mask="url(#mk1)"/>
<mask id="mk2" maskUnits="userSpaceOnUse" x="-260" y="-260" width="520" height="520"><rect x="-260" y="-260" width="520" height="520" fill="#fff"/><path d="M-35.53 184.92 L-39.05 184.21 L-42.55 183.43 L-46.04 182.58 L-49.52 181.67 L-52.97 180.7 L-56.41 179.65 L-59.83 178.54 L-63.22 177.37 L-66.59 176.13 L-69.94 174.83 L-73.26 173.46 L-76.56 172.04 L-79.82 170.54 L-83.06 168.99 L-86.27 167.38 L-89.44 165.7 L-92.59 163.96 L-95.7 162.17 L-98.77 160.31 L-101.81 158.4 L-104.82 156.43 L-107.78 154.4 L-110.71 152.32 L-113.59 150.18 L-116.43 147.99 L-119.24 145.74 L-121.99 143.44 L-124.71 141.09 L-127.38 138.68 L-130 136.23 L-132.57 133.72 L-135.1 131.17 L-137.57 128.57 L-140 125.92 L-142.38 123.23 L-144.7 120.49 L-146.97 117.71 L-149.19 114.89 L-151.36 112.02 L-153.46 109.11 L-155.52 106.17 L-157.51 103.18 L-159.45 100.16 L-161.33 97.1 L-163.16 94 L-164.92 90.87 L-166.62 87.71 L-168.27 84.52 L-169.85 81.29 L-171.37 78.04 L-172.82 74.76 L-174.22 71.45 L-175.55 68.11 L-176.82 64.75 L-178.02 61.37 L-179.16 57.96 L-180.23 54.53 L-181.24 51.09 L-182.18 47.62 L-183.05 44.14 L-183.86 40.64 L-184.6 37.12 L-185.28 33.6 L-185.89 30.06 L-186.43 26.51 L-186.9 22.95 L-187.3 19.38 L-187.64 15.8 L-187.9 12.22 L-188.1 8.63 L-188.23 5.05 L-188.29 1.45 L-188.29 -2.14 L-188.21 -5.73 L-188.07 -9.32 L-187.86 -12.9 L-187.58 -16.48 L-187.23 -20.06 L-186.81 -23.62 L-186.33 -27.18 L-127.15 -18.55 L-127.49 -16.08 L-127.78 -13.6 L-128.02 -11.12 L-128.21 -8.63 L-128.35 -6.14 L-128.45 -3.65 L-128.49 -1.15 L-128.49 1.34 L-128.44 3.83 L-128.34 6.33 L-128.2 8.82 L-128 11.3 L-127.76 13.78 L-127.47 16.26 L-127.13 18.73 L-126.74 21.2 L-126.3 23.65 L-125.82 26.1 L-125.29 28.54 L-124.71 30.96 L-124.09 33.38 L-123.42 35.78 L-122.7 38.17 L-121.94 40.54 L-121.13 42.9 L-120.27 45.25 L-119.37 47.57 L-118.42 49.88 L-117.43 52.17 L-116.4 54.44 L-115.32 56.69 L-114.2 58.91 L-113.03 61.12 L-111.83 63.3 L-110.58 65.46 L-109.28 67.59 L-107.95 69.7 L-106.58 71.79 L-105.17 73.84 L-103.71 75.87 L-102.22 77.87 L-100.69 79.84 L-99.12 81.78 L-97.52 83.68 L-95.87 85.56 L-94.19 87.41 L-92.48 89.22 L-90.73 91 L-88.95 92.74 L-87.13 94.45 L-85.28 96.12 L-83.4 97.76 L-81.49 99.36 L-79.54 100.92 L-77.57 102.45 L-75.57 103.93 L-73.53 105.38 L-71.47 106.79 L-69.39 108.16 L-67.28 109.48 L-65.14 110.77 L-62.98 112.01 L-60.79 113.21 L-58.58 114.37 L-56.35 115.49 L-54.1 116.56 L-51.83 117.59 L-49.53 118.57 L-47.22 119.51 L-44.89 120.4 L-42.55 121.25 L-40.19 122.05 L-37.81 122.81 L-35.42 123.52 L-33.02 124.19 L-30.6 124.8 L-28.17 125.37 L-25.73 125.9 L-23.28 126.37 L-20.83 126.8 L-19.62 128.12 L-18.48 129.5 L-17.41 130.94 L-16.41 132.43 L-15.5 133.96 L-14.66 135.54 L-13.9 137.17 L-13.23 138.82 L-12.64 140.51 L-12.13 142.23 L-11.72 143.97 L-11.39 145.73 L-11.16 147.51 L-11.01 149.29 L-10.95 151.08 L-10.99 152.87 L-11.11 154.66 L-11.33 156.43 L-11.64 158.2 L-12.03 159.94 L-12.51 161.67 L-13.08 163.36 L-13.74 165.03 L-14.48 166.66 L-15.3 168.25 L-16.2 169.8 L-17.17 171.3 L-18.23 172.75 L-19.35 174.14 L-20.54 175.48 L-21.8 176.75 L-23.12 177.95 L-24.51 179.09 L-25.94 180.16 L-27.43 181.15 L-28.97 182.07 L-30.55 182.9 L-32.18 183.66 L-33.84 184.33 Z" fill="#000" stroke="#000" stroke-width="6.4"/></mask>
<path d="M163.93 92.65 L162.17 95.69 L160.36 98.7 L158.49 101.68 L156.56 104.62 L154.58 107.52 L152.55 110.39 L150.46 113.21 L148.33 116 L146.14 118.75 L143.9 121.45 L141.6 124.12 L139.26 126.74 L136.87 129.31 L134.44 131.85 L131.96 134.33 L129.43 136.77 L126.85 139.16 L124.23 141.5 L121.57 143.8 L118.87 146.04 L116.12 148.23 L113.34 150.37 L110.51 152.46 L107.65 154.5 L104.75 156.48 L101.81 158.4 L98.83 160.28 L95.83 162.09 L92.79 163.85 L89.71 165.55 L86.61 167.2 L83.47 168.79 L80.31 170.31 L77.12 171.78 L73.9 173.19 L70.66 174.54 L67.39 175.83 L64.1 177.06 L60.78 178.22 L57.44 179.32 L54.09 180.36 L50.71 181.34 L47.32 182.26 L43.91 183.11 L40.49 183.9 L37.05 184.62 L33.6 185.28 L30.14 185.87 L26.66 186.4 L23.18 186.87 L19.69 187.27 L16.19 187.6 L12.69 187.87 L9.18 188.08 L5.67 188.21 L2.16 188.29 L-1.35 188.3 L-4.87 188.24 L-8.38 188.11 L-11.89 187.92 L-15.39 187.67 L-18.89 187.35 L-22.38 186.97 L-25.86 186.52 L-29.34 186 L-32.81 185.42 L-36.26 184.78 L-39.7 184.07 L-43.13 183.29 L-46.54 182.46 L-49.94 181.56 L-53.31 180.59 L-56.67 179.57 L-60.02 178.48 L-63.33 177.33 L-66.63 176.12 L-69.91 174.84 L-73.16 173.51 L-76.38 172.11 L-79.58 170.66 L-54.31 116.46 L-52.08 117.47 L-49.84 118.44 L-47.58 119.36 L-45.31 120.25 L-43.02 121.09 L-40.71 121.88 L-38.39 122.63 L-36.05 123.34 L-33.7 124 L-31.34 124.62 L-28.97 125.19 L-26.58 125.72 L-24.19 126.2 L-21.79 126.64 L-19.38 127.03 L-16.96 127.38 L-14.54 127.67 L-12.11 127.93 L-9.68 128.13 L-7.24 128.3 L-4.81 128.41 L-2.37 128.48 L0.07 128.5 L2.52 128.48 L4.96 128.4 L7.39 128.29 L9.83 128.12 L12.26 127.91 L14.69 127.66 L17.11 127.36 L19.53 127.01 L21.94 126.61 L24.34 126.17 L26.73 125.69 L29.11 125.16 L31.48 124.58 L33.85 123.96 L36.19 123.3 L38.53 122.59 L40.85 121.83 L43.16 121.04 L45.45 120.19 L47.72 119.31 L49.98 118.38 L52.22 117.41 L54.44 116.4 L56.64 115.34 L58.82 114.25 L60.98 113.11 L63.12 111.93 L65.24 110.71 L67.33 109.45 L69.39 108.15 L71.44 106.81 L73.45 105.44 L75.44 104.02 L77.4 102.57 L79.34 101.08 L81.24 99.56 L83.12 98 L84.97 96.4 L86.78 94.77 L88.57 93.1 L90.32 91.4 L92.04 89.67 L93.73 87.91 L95.38 86.11 L97 84.28 L98.58 82.43 L100.13 80.54 L101.64 78.62 L103.12 76.68 L104.55 74.7 L105.95 72.71 L107.32 70.68 L108.64 68.63 L109.92 66.55 L111.17 64.45 L112.37 62.33 L113.54 60.18 L115.17 59.46 L116.84 58.82 L118.55 58.26 L120.27 57.8 L122.02 57.42 L123.79 57.13 L125.57 56.93 L127.35 56.81 L129.14 56.8 L130.93 56.87 L132.72 57.03 L134.49 57.28 L136.25 57.62 L137.98 58.05 L139.7 58.57 L141.38 59.17 L143.03 59.86 L144.65 60.63 L146.22 61.49 L147.75 62.42 L149.23 63.43 L150.66 64.51 L152.03 65.66 L153.34 66.88 L154.58 68.16 L155.76 69.51 L156.87 70.91 L157.91 72.37 L158.87 73.88 L159.76 75.44 L160.56 77.04 L161.28 78.68 L161.92 80.35 L162.47 82.05 L162.94 83.78 L163.32 85.53 L163.61 87.3 L163.8 89.08 L163.91 90.86 Z" fill="#ff9f98" stroke="#7d7d7d" stroke-width="1.3" mask="url(#mk2)"/>
<mask id="mk3" maskUnits="userSpaceOnUse" x="-260" y="-260" width="520" height="520"><rect x="-260" y="-260" width="520" height="520" fill="#fff"/><path d="M-187.33 19.11 L-187.65 15.59 L-187.91 12.07 L-188.11 8.54 L-188.23 5.01 L-188.29 1.47 L-188.29 -2.06 L-188.22 -5.59 L-188.08 -9.13 L-187.87 -12.65 L-187.6 -16.18 L-187.27 -19.69 L-186.86 -23.21 L-186.4 -26.71 L-185.86 -30.2 L-185.26 -33.68 L-184.6 -37.15 L-183.87 -40.61 L-183.07 -44.06 L-182.21 -47.48 L-181.29 -50.9 L-180.3 -54.29 L-179.25 -57.66 L-178.14 -61.02 L-176.96 -64.35 L-175.72 -67.66 L-174.42 -70.94 L-173.06 -74.21 L-171.64 -77.44 L-170.16 -80.65 L-168.61 -83.83 L-167.01 -86.98 L-165.35 -90.09 L-163.63 -93.18 L-161.85 -96.24 L-160.02 -99.26 L-158.12 -102.24 L-156.18 -105.19 L-154.18 -108.1 L-152.12 -110.98 L-150.01 -113.81 L-147.85 -116.61 L-145.63 -119.36 L-143.37 -122.07 L-141.05 -124.74 L-138.69 -127.37 L-136.27 -129.95 L-133.81 -132.48 L-131.3 -134.97 L-128.74 -137.41 L-126.14 -139.8 L-123.5 -142.15 L-120.81 -144.44 L-118.07 -146.68 L-115.3 -148.87 L-112.49 -151.01 L-109.63 -153.09 L-106.74 -155.12 L-103.81 -157.1 L-100.84 -159.02 L-97.84 -160.88 L-94.81 -162.69 L-91.74 -164.44 L-88.63 -166.14 L-85.5 -167.77 L-82.34 -169.34 L-79.14 -170.86 L-75.92 -172.31 L-72.68 -173.71 L-69.4 -175.04 L-66.11 -176.31 L-62.79 -177.52 L-59.44 -178.67 L-56.08 -179.75 L-52.7 -180.78 L-49.3 -181.73 L-45.88 -182.63 L-42.44 -183.45 L-38.99 -184.22 L-35.53 -184.92 L-32.05 -185.55 L-21.87 -126.62 L-24.29 -126.18 L-26.69 -125.7 L-29.09 -125.16 L-31.48 -124.59 L-33.85 -123.96 L-36.21 -123.29 L-38.56 -122.58 L-40.9 -121.82 L-43.22 -121.02 L-45.52 -120.17 L-47.81 -119.28 L-50.08 -118.34 L-52.33 -117.36 L-54.56 -116.34 L-56.77 -115.28 L-58.97 -114.17 L-61.14 -113.03 L-63.28 -111.84 L-65.41 -110.61 L-67.51 -109.34 L-69.59 -108.03 L-71.64 -106.68 L-73.66 -105.29 L-75.66 -103.86 L-77.63 -102.4 L-79.57 -100.9 L-81.49 -99.36 L-83.37 -97.78 L-85.22 -96.17 L-87.04 -94.53 L-88.83 -92.85 L-90.59 -91.13 L-92.32 -89.39 L-94.01 -87.61 L-95.66 -85.79 L-97.29 -83.95 L-98.87 -82.08 L-100.42 -80.17 L-101.93 -78.24 L-103.41 -76.28 L-104.85 -74.29 L-106.25 -72.27 L-107.61 -70.23 L-108.93 -68.16 L-110.21 -66.07 L-111.46 -63.95 L-112.66 -61.81 L-113.82 -59.65 L-114.94 -57.46 L-116.01 -55.25 L-117.05 -53.03 L-118.04 -50.78 L-118.99 -48.52 L-119.89 -46.24 L-120.76 -43.94 L-121.57 -41.62 L-122.35 -39.29 L-123.07 -36.95 L-123.76 -34.59 L-124.4 -32.22 L-124.99 -29.84 L-125.54 -27.44 L-126.04 -25.04 L-126.49 -22.63 L-126.9 -20.21 L-127.26 -17.78 L-127.58 -15.34 L-127.85 -12.9 L-128.07 -10.46 L-128.25 -8.01 L-128.38 -5.56 L-128.46 -3.11 L-128.5 -0.65 L-128.49 1.8 L-128.43 4.26 L-128.32 6.71 L-128.17 9.16 L-127.97 11.61 L-127.73 14.05 L-127.44 16.49 L-128.36 18.03 L-129.35 19.51 L-130.42 20.95 L-131.56 22.33 L-132.77 23.65 L-134.04 24.91 L-135.38 26.1 L-136.77 27.22 L-138.22 28.27 L-139.72 29.25 L-141.27 30.15 L-142.86 30.97 L-144.49 31.7 L-146.16 32.36 L-147.86 32.92 L-149.58 33.4 L-151.33 33.8 L-153.09 34.1 L-154.87 34.31 L-156.65 34.44 L-158.44 34.47 L-160.23 34.41 L-162.02 34.26 L-163.79 34.03 L-165.55 33.7 L-167.29 33.28 L-169.01 32.78 L-170.7 32.18 L-172.36 31.51 L-173.98 30.75 L-175.56 29.91 L-177.09 28.99 L-178.58 27.99 L-180.02 26.92 L-181.39 25.78 L-182.71 24.57 L-183.97 23.29 L-185.16 21.96 L-186.28 20.56 Z" fill="#000" stroke="#000" stroke-width="6.4"/></mask>
<path d="M-35.53 184.92 L-39.05 184.21 L-42.55 183.43 L-46.04 182.58 L-49.52 181.67 L-52.97 180.7 L-56.41 179.65 L-59.83 178.54 L-63.22 177.37 L-66.59 176.13 L-69.94 174.83 L-73.26 173.46 L-76.56 172.04 L-79.82 170.54 L-83.06 168.99 L-86.27 167.38 L-89.44 165.7 L-92.59 163.96 L-95.7 162.17 L-98.77 160.31 L-101.81 158.4 L-104.82 156.43 L-107.78 154.4 L-110.71 152.32 L-113.59 150.18 L-116.43 147.99 L-119.24 145.74 L-121.99 143.44 L-124.71 141.09 L-127.38 138.68 L-130 136.23 L-132.57 133.72 L-135.1 131.17 L-137.57 128.57 L-140 125.92 L-142.38 123.23 L-144.7 120.49 L-146.97 117.71 L-149.19 114.89 L-151.36 112.02 L-153.46 109.11 L-155.52 106.17 L-157.51 103.18 L-159.45 100.16 L-161.33 97.1 L-163.16 94 L-164.92 90.87 L-166.62 87.71 L-168.27 84.52 L-169.85 81.29 L-171.37 78.04 L-172.82 74.76 L-174.22 71.45 L-175.55 68.11 L-176.82 64.75 L-178.02 61.37 L-179.16 57.96 L-180.23 54.53 L-181.24 51.09 L-182.18 47.62 L-183.05 44.14 L-183.86 40.64 L-184.6 37.12 L-185.28 33.6 L-185.89 30.06 L-186.43 26.51 L-186.9 22.95 L-187.3 19.38 L-187.64 15.8 L-187.9 12.22 L-188.1 8.63 L-188.23 5.05 L-188.29 1.45 L-188.29 -2.14 L-188.21 -5.73 L-188.07 -9.32 L-187.86 -12.9 L-187.58 -16.48 L-187.23 -20.06 L-186.81 -23.62 L-186.33 -27.18 L-127.15 -18.55 L-127.49 -16.08 L-127.78 -13.6 L-128.02 -11.12 L-128.21 -8.63 L-128.35 -6.14 L-128.45 -3.65 L-128.49 -1.15 L-128.49 1.34 L-128.44 3.83 L-128.34 6.33 L-128.2 8.82 L-128 11.3 L-127.76 13.78 L-127.47 16.26 L-127.13 18.73 L-126.74 21.2 L-126.3 23.65 L-125.82 26.1 L-125.29 28.54 L-124.71 30.96 L-124.09 33.38 L-123.42 35.78 L-122.7 38.17 L-121.94 40.54 L-121.13 42.9 L-120.27 45.25 L-119.37 47.57 L-118.42 49.88 L-117.43 52.17 L-116.4 54.44 L-115.32 56.69 L-114.2 58.91 L-113.03 61.12 L-111.83 63.3 L-110.58 65.46 L-109.28 67.59 L-107.95 69.7 L-106.58 71.79 L-105.17 73.84 L-103.71 75.87 L-102.22 77.87 L-100.69 79.84 L-99.12 81.78 L-97.52 83.68 L-95.87 85.56 L-94.19 87.41 L-92.48 89.22 L-90.73 91 L-88.95 92.74 L-87.13 94.45 L-85.28 96.12 L-83.4 97.76 L-81.49 99.36 L-79.54 100.92 L-77.57 102.45 L-75.57 103.93 L-73.53 105.38 L-71.47 106.79 L-69.39 108.16 L-67.28 109.48 L-65.14 110.77 L-62.98 112.01 L-60.79 113.21 L-58.58 114.37 L-56.35 115.49 L-54.1 116.56 L-51.83 117.59 L-49.53 118.57 L-47.22 119.51 L-44.89 120.4 L-42.55 121.25 L-40.19 122.05 L-37.81 122.81 L-35.42 123.52 L-33.02 124.19 L-30.6 124.8 L-28.17 125.37 L-25.73 125.9 L-23.28 126.37 L-20.83 126.8 L-19.62 128.12 L-18.48 129.5 L-17.41 130.94 L-16.41 132.43 L-15.5 133.96 L-14.66 135.54 L-13.9 137.17 L-13.23 138.82 L-12.64 140.51 L-12.13 142.23 L-11.72 143.97 L-11.39 145.73 L-11.16 147.51 L-11.01 149.29 L-10.95 151.08 L-10.99 152.87 L-11.11 154.66 L-11.33 156.43 L-11.64 158.2 L-12.03 159.94 L-12.51 161.67 L-13.08 163.36 L-13.74 165.03 L-14.48 166.66 L-15.3 168.25 L-16.2 169.8 L-17.17 171.3 L-18.23 172.75 L-19.35 174.14 L-20.54 175.48 L-21.8 176.75 L-23.12 177.95 L-24.51 179.09 L-25.94 180.16 L-27.43 181.15 L-28.97 182.07 L-30.55 182.9 L-32.18 183.66 L-33.84 184.33 Z" fill="#a9bbf8" stroke="#7d7d7d" stroke-width="1.3" mask="url(#mk3)"/>
<mask id="mk4" maskUnits="userSpaceOnUse" x="-260" y="-260" width="520" height="520"><rect x="-260" y="-260" width="520" height="520" fill="#fff"/><path d="M-76.36 -172.12 L-73.14 -173.52 L-69.89 -174.85 L-66.61 -176.12 L-63.32 -177.34 L-60 -178.49 L-56.66 -179.57 L-53.3 -180.6 L-49.92 -181.56 L-46.52 -182.46 L-43.11 -183.3 L-39.68 -184.07 L-36.24 -184.78 L-32.79 -185.42 L-29.32 -186 L-25.84 -186.52 L-22.36 -186.97 L-18.87 -187.35 L-15.37 -187.67 L-11.86 -187.93 L-8.36 -188.11 L-4.85 -188.24 L-1.33 -188.3 L2.18 -188.29 L5.69 -188.21 L9.2 -188.07 L12.71 -187.87 L16.21 -187.6 L19.71 -187.27 L23.2 -186.87 L26.68 -186.4 L30.16 -185.87 L33.62 -185.27 L37.07 -184.61 L40.51 -183.89 L43.93 -183.1 L47.34 -182.25 L50.73 -181.34 L54.11 -180.36 L57.46 -179.32 L60.8 -178.21 L64.11 -177.05 L67.41 -175.82 L70.67 -174.53 L73.92 -173.18 L77.14 -171.78 L80.33 -170.31 L83.49 -168.78 L86.63 -167.19 L89.73 -165.55 L92.8 -163.84 L95.84 -162.08 L98.85 -160.27 L101.83 -158.39 L104.76 -156.47 L107.66 -154.48 L110.53 -152.45 L113.35 -150.36 L116.14 -148.22 L118.88 -146.03 L121.59 -143.78 L124.25 -141.49 L126.87 -139.15 L129.44 -136.76 L131.97 -134.32 L134.45 -131.83 L136.89 -129.3 L139.28 -126.72 L141.62 -124.1 L143.91 -121.44 L146.15 -118.73 L148.34 -115.98 L150.48 -113.2 L152.56 -110.37 L154.6 -107.5 L156.57 -104.6 L158.5 -101.66 L160.37 -98.69 L162.18 -95.68 L163.94 -92.63 L165.64 -89.56 L113.03 -61.12 L111.85 -63.25 L110.63 -65.37 L109.37 -67.46 L108.07 -69.52 L106.73 -71.56 L105.35 -73.58 L103.93 -75.56 L102.48 -77.53 L100.99 -79.46 L99.46 -81.36 L97.9 -83.24 L96.3 -85.08 L94.67 -86.89 L93 -88.68 L91.3 -90.43 L89.56 -92.15 L87.8 -93.83 L86 -95.48 L84.17 -97.1 L82.31 -98.68 L80.42 -100.22 L78.5 -101.73 L76.55 -103.21 L74.58 -104.64 L72.58 -106.04 L70.55 -107.4 L68.5 -108.72 L66.42 -110 L64.32 -111.24 L62.2 -112.45 L60.05 -113.61 L57.88 -114.73 L55.69 -115.81 L53.48 -116.84 L51.25 -117.84 L49 -118.79 L46.74 -119.7 L44.46 -120.56 L42.16 -121.39 L39.84 -122.17 L37.52 -122.9 L35.18 -123.59 L32.82 -124.24 L30.46 -124.84 L28.08 -125.39 L25.69 -125.91 L23.3 -126.37 L20.89 -126.79 L18.48 -127.16 L16.06 -127.49 L13.64 -127.77 L11.21 -128.01 L8.77 -128.2 L6.34 -128.34 L3.9 -128.44 L1.46 -128.49 L-0.99 -128.5 L-3.43 -128.45 L-5.87 -128.37 L-8.3 -128.23 L-10.74 -128.05 L-13.17 -127.82 L-15.59 -127.55 L-18.01 -127.23 L-20.43 -126.87 L-22.83 -126.46 L-25.23 -126 L-27.62 -125.5 L-30 -124.95 L-32.37 -124.36 L-34.72 -123.72 L-37.07 -123.04 L-39.4 -122.31 L-41.71 -121.54 L-44.01 -120.73 L-46.3 -119.87 L-48.57 -118.97 L-50.82 -118.02 L-53.05 -117.04 L-55.27 -116.01 L-57.01 -116.4 L-58.74 -116.89 L-60.43 -117.45 L-62.1 -118.11 L-63.73 -118.85 L-65.32 -119.67 L-66.87 -120.57 L-68.37 -121.54 L-69.82 -122.6 L-71.21 -123.72 L-72.54 -124.91 L-73.82 -126.17 L-75.02 -127.49 L-76.16 -128.87 L-77.23 -130.31 L-78.22 -131.8 L-79.14 -133.34 L-79.97 -134.92 L-80.73 -136.54 L-81.4 -138.2 L-81.99 -139.89 L-82.49 -141.61 L-82.9 -143.35 L-83.23 -145.12 L-83.46 -146.89 L-83.61 -148.67 L-83.66 -150.46 L-83.62 -152.25 L-83.5 -154.04 L-83.28 -155.82 L-82.97 -157.58 L-82.57 -159.32 L-82.09 -161.05 L-81.52 -162.74 L-80.86 -164.41 L-80.12 -166.04 L-79.3 -167.63 L-78.4 -169.18 L-77.42 -170.67 Z" fill="#000" stroke="#000" stroke-width="6.4"/></mask>
<path d="M-187.33 19.11 L-187.65 15.59 L-187.91 12.07 L-188.11 8.54 L-188.23 5.01 L-188.29 1.47 L-188.29 -2.06 L-188.22 -5.59 L-188.08 -9.13 L-187.87 -12.65 L-187.6 -16.18 L-187.27 -19.69 L-186.86 -23.21 L-186.4 -26.71 L-185.86 -30.2 L-185.26 -33.68 L-184.6 -37.15 L-183.87 -40.61 L-183.07 -44.06 L-182.21 -47.48 L-181.29 -50.9 L-180.3 -54.29 L-179.25 -57.66 L-178.14 -61.02 L-176.96 -64.35 L-175.72 -67.66 L-174.42 -70.94 L-173.06 -74.21 L-171.64 -77.44 L-170.16 -80.65 L-168.61 -83.83 L-167.01 -86.98 L-165.35 -90.09 L-163.63 -93.18 L-161.85 -96.24 L-160.02 -99.26 L-158.12 -102.24 L-156.18 -105.19 L-154.18 -108.1 L-152.12 -110.98 L-150.01 -113.81 L-147.85 -116.61 L-145.63 -119.36 L-143.37 -122.07 L-141.05 -124.74 L-138.69 -127.37 L-136.27 -129.95 L-133.81 -132.48 L-131.3 -134.97 L-128.74 -137.41 L-126.14 -139.8 L-123.5 -142.15 L-120.81 -144.44 L-118.07 -146.68 L-115.3 -148.87 L-112.49 -151.01 L-109.63 -153.09 L-106.74 -155.12 L-103.81 -157.1 L-100.84 -159.02 L-97.84 -160.88 L-94.81 -162.69 L-91.74 -164.44 L-88.63 -166.14 L-85.5 -167.77 L-82.34 -169.34 L-79.14 -170.86 L-75.92 -172.31 L-72.68 -173.71 L-69.4 -175.04 L-66.11 -176.31 L-62.79 -177.52 L-59.44 -178.67 L-56.08 -179.75 L-52.7 -180.78 L-49.3 -181.73 L-45.88 -182.63 L-42.44 -183.45 L-38.99 -184.22 L-35.53 -184.92 L-32.05 -185.55 L-21.87 -126.62 L-24.29 -126.18 L-26.69 -125.7 L-29.09 -125.16 L-31.48 -124.59 L-33.85 -123.96 L-36.21 -123.29 L-38.56 -122.58 L-40.9 -121.82 L-43.22 -121.02 L-45.52 -120.17 L-47.81 -119.28 L-50.08 -118.34 L-52.33 -117.36 L-54.56 -116.34 L-56.77 -115.28 L-58.97 -114.17 L-61.14 -113.03 L-63.28 -111.84 L-65.41 -110.61 L-67.51 -109.34 L-69.59 -108.03 L-71.64 -106.68 L-73.66 -105.29 L-75.66 -103.86 L-77.63 -102.4 L-79.57 -100.9 L-81.49 -99.36 L-83.37 -97.78 L-85.22 -96.17 L-87.04 -94.53 L-88.83 -92.85 L-90.59 -91.13 L-92.32 -89.39 L-94.01 -87.61 L-95.66 -85.79 L-97.29 -83.95 L-98.87 -82.08 L-100.42 -80.17 L-101.93 -78.24 L-103.41 -76.28 L-104.85 -74.29 L-106.25 -72.27 L-107.61 -70.23 L-108.93 -68.16 L-110.21 -66.07 L-111.46 -63.95 L-112.66 -61.81 L-113.82 -59.65 L-114.94 -57.46 L-116.01 -55.25 L-117.05 -53.03 L-118.04 -50.78 L-118.99 -48.52 L-119.89 -46.24 L-120.76 -43.94 L-121.57 -41.62 L-122.35 -39.29 L-123.07 -36.95 L-123.76 -34.59 L-124.4 -32.22 L-124.99 -29.84 L-125.54 -27.44 L-126.04 -25.04 L-126.49 -22.63 L-126.9 -20.21 L-127.26 -17.78 L-127.58 -15.34 L-127.85 -12.9 L-128.07 -10.46 L-128.25 -8.01 L-128.38 -5.56 L-128.46 -3.11 L-128.5 -0.65 L-128.49 1.8 L-128.43 4.26 L-128.32 6.71 L-128.17 9.16 L-127.97 11.61 L-127.73 14.05 L-127.44 16.49 L-128.36 18.03 L-129.35 19.51 L-130.42 20.95 L-131.56 22.33 L-132.77 23.65 L-134.04 24.91 L-135.38 26.1 L-136.77 27.22 L-138.22 28.27 L-139.72 29.25 L-141.27 30.15 L-142.86 30.97 L-144.49 31.7 L-146.16 32.36 L-147.86 32.92 L-149.58 33.4 L-151.33 33.8 L-153.09 34.1 L-154.87 34.31 L-156.65 34.44 L-158.44 34.47 L-160.23 34.41 L-162.02 34.26 L-163.79 34.03 L-165.55 33.7 L-167.29 33.28 L-169.01 32.78 L-170.7 32.18 L-172.36 31.51 L-173.98 30.75 L-175.56 29.91 L-177.09 28.99 L-178.58 27.99 L-180.02 26.92 L-181.39 25.78 L-182.71 24.57 L-183.97 23.29 L-185.16 21.96 L-186.28 20.56 Z" fill="#00c3f5" stroke="#7d7d7d" stroke-width="1.3" mask="url(#mk4)"/>
<path d="M2.5 -124.17 A124.2 124.2 0 0 1 124.17 -2.5 L68.45 -2.5 A68.5 68.5 0 0 0 2.5 -68.45 Z" fill="#fff18a" stroke="#8f8a4a" stroke-width="1.1"/>
<path d="M2.5 124.17 A124.2 124.2 0 0 0 124.17 2.5 L68.45 2.5 A68.5 68.5 0 0 1 2.5 68.45 Z" fill="#ffa6aa" stroke="#8c5658" stroke-width="1.1"/>
<path d="M-2.5 124.17 A124.2 124.2 0 0 1 -124.17 2.5 L-68.45 2.5 A68.5 68.5 0 0 0 -2.5 68.45 Z" fill="#bfccfb" stroke="#5c6488" stroke-width="1.1"/>
<path d="M-2.5 -124.17 A124.2 124.2 0 0 0 -124.17 -2.5 L-68.45 -2.5 A68.5 68.5 0 0 1 -2.5 -68.45 Z" fill="#8ad8f8" stroke="#3f7290" stroke-width="1.1"/>
<text font-family="Liberation Sans, sans-serif" font-size="17" fill="#111" stroke="#111" stroke-width="0.3" text-anchor="middle" ><textPath href="#o1" startOffset="50%">Real-time monitors of reaction evolutions</textPath></text>
<text font-family="Liberation Sans, sans-serif" font-size="18" fill="#111" stroke="#111" stroke-width="0.3" text-anchor="middle" ><textPath href="#o2a" startOffset="50%">Environmental adaptability of catalyst</textPath></text>
<text font-family="Liberation Sans, sans-serif" font-size="17.5" fill="#111" stroke="#111" stroke-width="0.3" text-anchor="middle" ><textPath href="#o2b" startOffset="50%">-assisted electrolyte</textPath></text>
<text font-family="Liberation Sans, sans-serif" font-size="17.4" fill="#111" stroke="#111" stroke-width="0.3" text-anchor="middle" ><textPath href="#o3a" startOffset="50%">Scalable methodology of atomic</textPath></text>
<text font-family="Liberation Sans, sans-serif" font-size="17.4" fill="#111" stroke="#111" stroke-width="0.3" text-anchor="middle" ><textPath href="#o3b" startOffset="50%">tandem catalyst</textPath></text>
<text font-family="Liberation Sans, sans-serif" font-size="16.7" fill="#111" stroke="#111" stroke-width="0.3" text-anchor="middle" ><textPath href="#o4" startOffset="50%">Practical assessment of large areal LMBs</textPath></text>
<text font-family="Liberation Sans, sans-serif" font-size="17.4" fill="#111" stroke="#111" stroke-width="0.3" text-anchor="middle" ><textPath href="#m1a" startOffset="50%">Desolvation barrier</textPath></text>
<text font-family="Liberation Sans, sans-serif" font-size="17" fill="#111" stroke="#111" stroke-width="0.3" text-anchor="middle" ><textPath href="#m1b" startOffset="50%">of Li(solvents)<tspan font-size="11" baseline-shift="sub">x</tspan><tspan font-size="11" baseline-shift="super">+</tspan></textPath></text>
<text font-family="Liberation Sans, sans-serif" font-size="20" fill="#111" stroke="#111" stroke-width="0.3" text-anchor="middle" ><textPath href="#m2a" startOffset="50%">Diffusion barrier</textPath></text>
<text font-family="Liberation Sans, sans-serif" font-size="17.2" fill="#111" stroke="#111" stroke-width="0.3" text-anchor="middle" ><textPath href="#m2b" startOffset="50%">of Li<tspan font-size="11" baseline-shift="super">+</tspan> across SEI</textPath></text>
<text font-family="Liberation Sans, sans-serif" font-size="18" fill="#111" stroke="#111" stroke-width="0.3" text-anchor="middle" ><textPath href="#m3a" startOffset="50%">Diffusion/nucleation</textPath></text>
<text font-family="Liberation Sans, sans-serif" font-size="17.8" fill="#111" stroke="#111" stroke-width="0.3" text-anchor="middle" ><textPath href="#m3b" startOffset="50%">barriers of Li atom</textPath></text>
<text font-family="Liberation Sans, sans-serif" font-size="17.1" fill="#111" stroke="#111" stroke-width="0.3" text-anchor="middle" ><textPath href="#m4a" startOffset="50%">Polysulfide conversion</textPath></text>
<text font-family="Liberation Sans, sans-serif" font-size="16.4" fill="#111" stroke="#111" stroke-width="0.3" text-anchor="middle" ><textPath href="#m4b" startOffset="50%">barriers in SRR</textPath></text>
<text font-family="Liberation Sans, sans-serif" font-size="16.7" fill="#111" stroke="#111" stroke-width="0.3" text-anchor="middle" ><textPath href="#m5a" startOffset="50%">Li<tspan font-size="11" baseline-shift="sub">2</tspan>S delithiation barriers</textPath></text>
<text font-family="Liberation Sans, sans-serif" font-size="16.4" fill="#111" stroke="#111" stroke-width="0.3" text-anchor="middle" ><textPath href="#m5b" startOffset="50%">in SORs</textPath></text>
<text font-family="Liberation Sans, sans-serif" font-size="18.2" fill="#111" stroke="#111" stroke-width="0.3" text-anchor="middle" ><textPath href="#i1a" startOffset="50%">Tardy SOR</textPath></text>
<text font-family="Liberation Sans, sans-serif" font-size="18.2" fill="#111" stroke="#111" stroke-width="0.3" text-anchor="middle" ><textPath href="#i1b" startOffset="50%">kinetics</textPath></text>
<text font-family="Liberation Sans, sans-serif" font-size="13" fill="#111" stroke="#111" stroke-width="0.3" text-anchor="middle" ><textPath href="#i2a" startOffset="50%">Depressive Li<tspan font-size="9" baseline-shift="super">+</tspan> desolvation/</textPath></text>
<text font-family="Liberation Sans, sans-serif" font-size="13.5" fill="#111" stroke="#111" stroke-width="0.3" text-anchor="middle" ><textPath href="#i2b" startOffset="50%">diffusion kinetics</textPath></text>
<text font-family="Liberation Sans, sans-serif" font-size="14.4" fill="#111" stroke="#111" stroke-width="0.3" text-anchor="middle" ><textPath href="#i3a" startOffset="50%">Dissatisfactory Li atom</textPath></text>
<text font-family="Liberation Sans, sans-serif" font-size="13.4" fill="#111" stroke="#111" stroke-width="0.3" text-anchor="middle" ><textPath href="#i3b" startOffset="50%">diffusion kinetics</textPath></text>
<text font-family="Liberation Sans, sans-serif" font-size="17" fill="#111" stroke="#111" stroke-width="0.3" text-anchor="middle" ><textPath href="#i4a" startOffset="50%">Sluggish SRR</textPath></text>
<text font-family="Liberation Sans, sans-serif" font-size="16.9" fill="#111" stroke="#111" stroke-width="0.3" text-anchor="middle" ><textPath href="#i4b" startOffset="50%">kinetics</textPath></text>
<text x="0" y="-22" font-family="Liberation Sans, sans-serif" stroke="#111" stroke-width="0.15" font-size="17.6" fill="#111" text-anchor="middle">Atom-level</text>
<text x="0" y="6.2" font-family="Liberation Sans, sans-serif" stroke="#111" stroke-width="0.15" font-size="17.6" fill="#111" text-anchor="middle">tandem catalysis</text>
<text x="2" y="33.9" font-family="Liberation Sans, sans-serif" stroke="#111" stroke-width="0.15" font-size="17.6" fill="#111" text-anchor="middle">in LMBs</text>
</g>
</svg></body></html>
